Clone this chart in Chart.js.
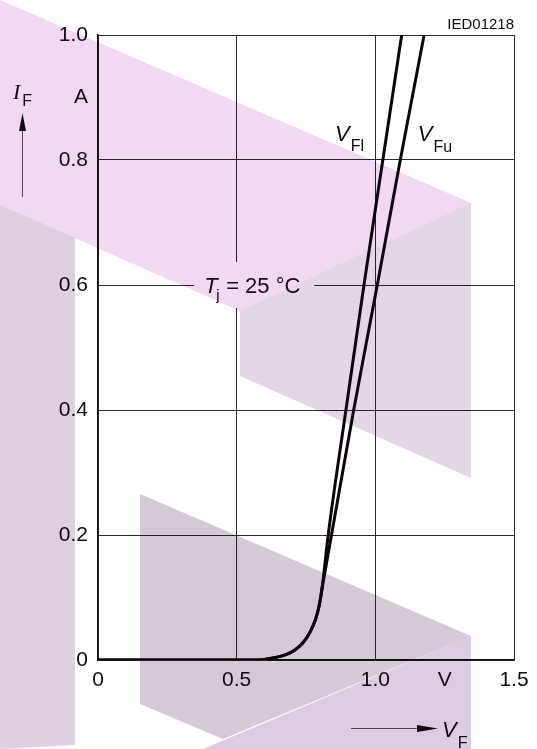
<!DOCTYPE html>
<html>
<head>
<meta charset="utf-8">
<script src="https://cdn.jsdelivr.net/npm/chart.js@4.4.1/dist/chart.umd.min.js"></script>
<style>
  html, body { margin: 0; padding: 0; background: #fff; }
  #wrap { width: 537px; height: 749px; }
</style>
</head>
<body>
<div id="wrap"><canvas id="diodeChart" width="537" height="749"></canvas></div>
<script>
// Forward characteristic, lower limit curve (V_Fl): volts / amps
const vflVolts   = [0, 0.30, 0.50, 0.56, 0.60,  0.64,  0.68,  0.71,  0.74,  0.765, 0.785, 0.798, 0.808, 0.830, 0.894, 0.959, 1.027, 1.095];
const vflCurrent = [0, 0,    0,    0,    0.001, 0.004, 0.009, 0.016, 0.028, 0.045, 0.066, 0.088, 0.115, 0.200, 0.400, 0.600, 0.800, 1.000];

// Forward characteristic, upper limit curve (V_Fu)
const vfuVolts   = [0, 0.30, 0.50, 0.56, 0.60,  0.64,  0.68,  0.71,  0.74,  0.765, 0.785, 0.798, 0.808, 0.842, 0.922, 1.007, 1.090, 1.176];
const vfuCurrent = [0, 0,    0,    0,    0.001, 0.004, 0.009, 0.016, 0.028, 0.045, 0.066, 0.088, 0.115, 0.200, 0.400, 0.600, 0.800, 1.000];

// axis ticks (unit letters sit in the tick rows, like the datasheet)
const xTickValues = [0, 0.25, 0.5, 0.75, 1.0, 1.25, 1.5];
const xTickLabels = ['0', '', '0.5', '', '1.0', 'V', '1.5'];
const yTickValues = [0, 0.2, 0.4, 0.6, 0.8, 0.9, 1.0];
const yTickLabels = ['0', '0.2', '0.4', '0.6', '0.8', 'A', '1.0'];

const curveNames = ['Fl', 'Fu'];
const diagramId = 'IED01218';
const junctionTemp = '25';

function toPoints(xs, ys) {
    return xs.map((x, i) => ({ x: x, y: ys[i] }));
}

const SANS = '"Liberation Sans", Arial, sans-serif';
const SERIF = '"Liberation Serif", "Times New Roman", serif';
const INK = '#120812';

// text with a subscript
function subText(ctx, x, y, main, sub, mainFont, subFont, dx, dy) {
    ctx.font = mainFont;
    ctx.fillText(main, x, y);
    const w = ctx.measureText(main).width;
    ctx.font = subFont;
    ctx.fillText(sub, x + w + dx, y + dy);
}

function arrowHead(ctx, tipX, tipY, dirX, dirY, len, half) {
    const bx = tipX - dirX * len, by = tipY - dirY * len;
    ctx.beginPath();
    ctx.moveTo(tipX, tipY);
    ctx.lineTo(bx - dirY * half, by + dirX * half);
    ctx.lineTo(bx + dirY * half, by - dirX * half);
    ctx.closePath();
    ctx.fill();
}

// labels, symbols and arrows
const labelPlugin = {
    id: 'labels',
    afterDatasetsDraw(chart) {
        const ctx = chart.ctx;
        const xs = chart.scales.x, ys = chart.scales.y;
        ctx.save();
        ctx.textBaseline = 'alphabetic';
        ctx.textAlign = 'left';

        // T_j label, with the grid cleared behind it
        const tx = xs.getPixelForValue(0.563), ty = ys.getPixelForValue(0.6);
        ctx.fillStyle = '#fff';
        ctx.fillRect(tx - 60, ty - 23, 120, 46);
        ctx.fillStyle = INK;
        ctx.font = 'italic 22px ' + SANS;
        ctx.fillText('T', tx - 50, ty + 8);
        ctx.font = '15px ' + SANS;
        ctx.fillText('j', tx - 38, ty + 15);
        ctx.font = '22px ' + SANS;
        ctx.fillText('= ' + junctionTemp + ' \u00B0C', tx - 28, ty + 8);

        // curve names
        const lx = xs.getPixelForValue(0.855), ly = ys.getPixelForValue(0.83);
        subText(ctx, lx, ly, 'V', curveNames[0], 'italic 22px ' + SANS, '16px ' + SANS, 1, 10);
        const ux = xs.getPixelForValue(1.153), uy = ys.getPixelForValue(0.83);
        subText(ctx, ux, uy, 'V', curveNames[1], 'italic 22px ' + SANS, '16px ' + SANS, 1, 11);

        // diagram number
        ctx.font = '15px ' + SANS;
        ctx.textAlign = 'right';
        ctx.fillText(diagramId, xs.right, 29);
        ctx.textAlign = 'left';

        // y axis symbol + arrow
        subText(ctx, 13, 99, 'I', 'F', 'italic 22px ' + SERIF, '16px ' + SANS, 2, 7);
        ctx.strokeStyle = '#555';
        ctx.lineWidth = 1;
        ctx.beginPath();
        ctx.moveTo(22.5, 197);
        ctx.lineTo(22.5, 125);
        ctx.stroke();
        arrowHead(ctx, 22.5, 113, 0, -1, 18, 3.5);

        // x axis symbol + arrow
        ctx.beginPath();
        ctx.moveTo(351, 728.5);
        ctx.lineTo(425, 728.5);
        ctx.stroke();
        arrowHead(ctx, 438, 728.5, 1, 0, 21, 3.5);
        subText(ctx, 442, 737, 'V', 'F', 'italic 22px ' + SANS, '16px ' + SANS, 1, 11);
        ctx.restore();
    }
};

// the faint logo shapes laid over the sheet
const markShapes = [
    { fill: 'rgb(241,217,241)', pts: [[0, 0], [471, 203], [240, 311], [0, 205]] },
    { fill: 'rgb(227,215,229)', pts: [[240, 311], [471, 203], [471, 478], [240, 376]] },
    { fill: 'rgb(222,208,222)', pts: [[0, 205], [75, 238], [75, 745], [0, 749]] },
    { fill: 'rgb(212,202,214)', pts: [[140, 494], [471, 636], [223, 739], [140, 704]] },
    { fill: 'rgb(219,204,225)', pts: [[471, 636], [471, 749], [203, 749]] }
];

const markPlugin = {
    id: 'watermark',
    afterDraw(chart) {
        const ctx = chart.ctx;
        ctx.save();
        ctx.globalCompositeOperation = 'multiply';
        markShapes.forEach(s => {
            ctx.fillStyle = s.fill;
            ctx.beginPath();
            s.pts.forEach((p, i) => i ? ctx.lineTo(p[0], p[1]) : ctx.moveTo(p[0], p[1]));
            ctx.closePath();
            ctx.fill();
        });
        ctx.restore();
    }
};

const whiteBg = {
    id: 'whiteBg',
    beforeDraw(chart) {
        const ctx = chart.ctx;
        ctx.save();
        ctx.fillStyle = '#fff';
        ctx.fillRect(0, 0, chart.width, chart.height);
        ctx.restore();
    }
};

document.addEventListener('DOMContentLoaded', function() {
    const ctx = document.getElementById('diodeChart').getContext('2d');

    const lineStyle = {
        borderColor: '#0d050d',
        borderWidth: 3,
        pointRadius: 0,
        fill: false,
        cubicInterpolationMode: 'monotone',
        borderCapStyle: 'round',
        borderJoinStyle: 'round'
    };

    new Chart(ctx, {
        type: 'line',
        data: {
            datasets: [
                Object.assign({ label: 'V_Fl', data: toPoints(vflVolts, vflCurrent) }, lineStyle),
                Object.assign({ label: 'V_Fu', data: toPoints(vfuVolts, vfuCurrent) }, lineStyle)
            ]
        },
        options: {
            responsive: false,
            animation: false,
            devicePixelRatio: 1,
            layout: { padding: { top: 35, right: 23, left: 0, bottom: 0 } },
            plugins: {
                legend: { display: false },
                title: { display: false },
                tooltip: { enabled: false }
            },
            scales: {
                x: {
                    type: 'linear',
                    min: 0,
                    max: 1.5,
                    afterBuildTicks: s => { s.ticks = xTickValues.map(v => ({ value: v })); },
                    afterFit: s => { s.height = 89; },
                    ticks: {
                        autoSkip: false,
                        maxRotation: 0,
                        padding: 8,
                        color: INK,
                        font: { family: SANS, size: 21 },
                        callback: (v, i) => xTickLabels[i]
                    },
                    grid: {
                        drawTicks: false,
                        lineWidth: 1,
                        color: c => (xTickLabels[c.index] && xTickLabels[c.index] !== 'V') ? '#2a2a2a' : 'rgba(0,0,0,0)'
                    },
                    border: { color: '#111', width: 1.5 }
                },
                y: {
                    type: 'linear',
                    min: 0,
                    max: 1.0,
                    afterBuildTicks: s => { s.ticks = yTickValues.map(v => ({ value: v })); },
                    afterFit: s => { s.width = 98; },
                    ticks: {
                        autoSkip: false,
                        padding: 10,
                        color: INK,
                        font: { family: SANS, size: 21 },
                        callback: (v, i) => yTickLabels[i]
                    },
                    grid: {
                        drawTicks: false,
                        lineWidth: 1,
                        color: c => (yTickLabels[c.index] && yTickLabels[c.index] !== 'A') ? '#2a2a2a' : 'rgba(0,0,0,0)'
                    },
                    border: { color: '#111', width: 1.5 }
                }
            }
        },
        plugins: [whiteBg, labelPlugin, markPlugin]
    });
});
</script>
</body>
</html>
